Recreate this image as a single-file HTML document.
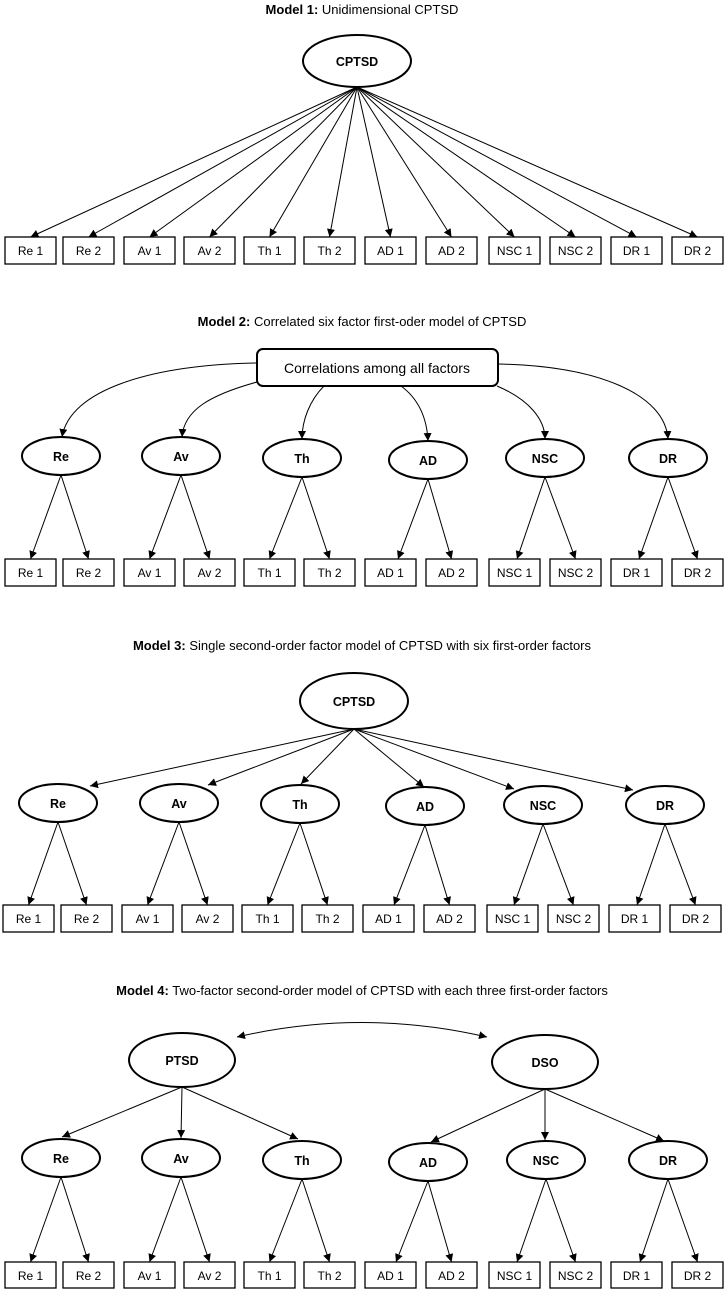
<!DOCTYPE html>
<html><head><meta charset="utf-8"><style>
html,body{margin:0;padding:0;background:#fff}
svg{display:block}
text{font-family:"Liberation Sans",sans-serif;fill:#000}
.t{font-size:13px}
.b{font-size:12px}
.f{font-size:12.5px;font-weight:bold}
rect.box{fill:#fff;stroke:#000;stroke-width:1.3}
ellipse{fill:#fff;stroke:#000;stroke-width:2}
line,path.c{stroke:#000;stroke-width:1;fill:none}
</style></head><body>
<svg width="725" height="1290" viewBox="0 0 725 1290" xmlns="http://www.w3.org/2000/svg">
<defs>
<marker id="a" viewBox="0 0 10 10" refX="10" refY="5" markerWidth="8" markerHeight="8" markerUnits="userSpaceOnUse" orient="auto-start-reverse"><path d="M0,0 L10,5 L0,10 z" fill="#000"/></marker>
</defs>

<!-- Model 1 -->
<text class="t" x="362" y="14" text-anchor="middle"><tspan font-weight="bold">Model 1:</tspan> Unidimensional CPTSD</text>
<g marker-end="url(#a)">
<line x1="357" y1="87" x2="30.5" y2="237"/><line x1="357" y1="87" x2="88.5" y2="237"/>
<line x1="357" y1="87" x2="149.5" y2="237"/><line x1="357" y1="87" x2="209.5" y2="237"/>
<line x1="357" y1="87" x2="269.5" y2="237"/><line x1="357" y1="87" x2="329.5" y2="237"/>
<line x1="357" y1="87" x2="390.5" y2="237"/><line x1="357" y1="87" x2="451.5" y2="237"/>
<line x1="357" y1="87" x2="514.5" y2="237"/><line x1="357" y1="87" x2="575.5" y2="237"/>
<line x1="357" y1="87" x2="636.5" y2="237"/><line x1="357" y1="87" x2="697.5" y2="237"/>
</g>
<ellipse cx="357" cy="61" rx="54" ry="26"/>
<text class="f" x="357" y="66" text-anchor="middle" font-size="14">CPTSD</text>
<g transform="translate(0,237)">
<rect class="box" x="5" y="0" width="51" height="27"/><text class="b" x="30.5" y="18" text-anchor="middle">Re 1</text>
<rect class="box" x="63" y="0" width="51" height="27"/><text class="b" x="88.5" y="18" text-anchor="middle">Re 2</text>
<rect class="box" x="124" y="0" width="51" height="27"/><text class="b" x="149.5" y="18" text-anchor="middle">Av 1</text>
<rect class="box" x="184" y="0" width="51" height="27"/><text class="b" x="209.5" y="18" text-anchor="middle">Av 2</text>
<rect class="box" x="244" y="0" width="51" height="27"/><text class="b" x="269.5" y="18" text-anchor="middle">Th 1</text>
<rect class="box" x="304" y="0" width="51" height="27"/><text class="b" x="329.5" y="18" text-anchor="middle">Th 2</text>
<rect class="box" x="365" y="0" width="51" height="27"/><text class="b" x="390.5" y="18" text-anchor="middle">AD 1</text>
<rect class="box" x="426" y="0" width="51" height="27"/><text class="b" x="451.5" y="18" text-anchor="middle">AD 2</text>
<rect class="box" x="489" y="0" width="51" height="27"/><text class="b" x="514.5" y="18" text-anchor="middle">NSC 1</text>
<rect class="box" x="550" y="0" width="51" height="27"/><text class="b" x="575.5" y="18" text-anchor="middle">NSC 2</text>
<rect class="box" x="611" y="0" width="51" height="27"/><text class="b" x="636.5" y="18" text-anchor="middle">DR 1</text>
<rect class="box" x="672" y="0" width="51" height="27"/><text class="b" x="697.5" y="18" text-anchor="middle">DR 2</text>
</g>

<!-- Model 2 -->
<text class="t" x="362" y="326" text-anchor="middle"><tspan font-weight="bold">Model 2:</tspan> Correlated six factor first-oder model of CPTSD</text>
<g marker-end="url(#a)">
<path class="c" d="M257,363 C150,365 70,390 62,437"/>
<path class="c" d="M257,382 C210,395 184,410 182,437"/>
<path class="c" d="M324,386 C310,400 302,420 302,439"/>
<path class="c" d="M401,386 C420,400 427,420 428,441"/>
<path class="c" d="M497,386 C530,400 545,420 545,439"/>
<path class="c" d="M498,364 C600,366 665,395 668,439"/>
<line x1="61" y1="475" x2="30.5" y2="559"/><line x1="61" y1="475" x2="88.5" y2="559"/>
<line x1="181" y1="475" x2="149.5" y2="559"/><line x1="181" y1="475" x2="209.5" y2="559"/>
<line x1="302" y1="477" x2="269.5" y2="559"/><line x1="302" y1="477" x2="329.5" y2="559"/>
<line x1="428" y1="479" x2="398" y2="559"/><line x1="428" y1="479" x2="451.5" y2="559"/>
<line x1="545" y1="477" x2="517" y2="559"/><line x1="545" y1="477" x2="575.5" y2="559"/>
<line x1="668" y1="477" x2="639" y2="559"/><line x1="668" y1="477" x2="697.5" y2="559"/>
</g>
<rect x="257" y="349" width="241" height="37" rx="6" fill="#fff" stroke="#000" stroke-width="2"/>
<text x="377" y="373" text-anchor="middle" font-size="14">Correlations among all factors</text>
<ellipse cx="61" cy="456" rx="39" ry="19"/><text class="f" x="61" y="461" text-anchor="middle">Re</text>
<ellipse cx="181" cy="456" rx="39" ry="19"/><text class="f" x="181" y="461" text-anchor="middle">Av</text>
<ellipse cx="302" cy="458" rx="39" ry="19"/><text class="f" x="302" y="463" text-anchor="middle">Th</text>
<ellipse cx="428" cy="460" rx="39" ry="19"/><text class="f" x="428" y="465" text-anchor="middle">AD</text>
<ellipse cx="545" cy="458" rx="39" ry="19"/><text class="f" x="545" y="463" text-anchor="middle">NSC</text>
<ellipse cx="668" cy="458" rx="39" ry="19"/><text class="f" x="668" y="463" text-anchor="middle">DR</text>
<g transform="translate(0,559)">
<rect class="box" x="5" y="0" width="51" height="27"/><text class="b" x="30.5" y="18" text-anchor="middle">Re 1</text>
<rect class="box" x="63" y="0" width="51" height="27"/><text class="b" x="88.5" y="18" text-anchor="middle">Re 2</text>
<rect class="box" x="124" y="0" width="51" height="27"/><text class="b" x="149.5" y="18" text-anchor="middle">Av 1</text>
<rect class="box" x="184" y="0" width="51" height="27"/><text class="b" x="209.5" y="18" text-anchor="middle">Av 2</text>
<rect class="box" x="244" y="0" width="51" height="27"/><text class="b" x="269.5" y="18" text-anchor="middle">Th 1</text>
<rect class="box" x="304" y="0" width="51" height="27"/><text class="b" x="329.5" y="18" text-anchor="middle">Th 2</text>
<rect class="box" x="365" y="0" width="51" height="27"/><text class="b" x="390.5" y="18" text-anchor="middle">AD 1</text>
<rect class="box" x="426" y="0" width="51" height="27"/><text class="b" x="451.5" y="18" text-anchor="middle">AD 2</text>
<rect class="box" x="489" y="0" width="51" height="27"/><text class="b" x="514.5" y="18" text-anchor="middle">NSC 1</text>
<rect class="box" x="550" y="0" width="51" height="27"/><text class="b" x="575.5" y="18" text-anchor="middle">NSC 2</text>
<rect class="box" x="611" y="0" width="51" height="27"/><text class="b" x="636.5" y="18" text-anchor="middle">DR 1</text>
<rect class="box" x="672" y="0" width="51" height="27"/><text class="b" x="697.5" y="18" text-anchor="middle">DR 2</text>
</g>

<!-- Model 3 -->
<text class="t" x="362" y="650" text-anchor="middle"><tspan font-weight="bold">Model 3:</tspan> Single second-order factor model of CPTSD with six first-order factors</text>
<g marker-end="url(#a)">
<line x1="354" y1="729" x2="90" y2="786"/><line x1="354" y1="729" x2="208" y2="785"/>
<line x1="354" y1="729" x2="301" y2="784"/><line x1="354" y1="729" x2="424" y2="787"/>
<line x1="354" y1="729" x2="514" y2="789"/><line x1="354" y1="729" x2="633" y2="790"/>
<line x1="58" y1="822" x2="28.5" y2="905"/><line x1="58" y1="822" x2="86.5" y2="905"/>
<line x1="179" y1="822" x2="147.5" y2="905"/><line x1="179" y1="822" x2="207.5" y2="905"/>
<line x1="300" y1="823" x2="267.5" y2="905"/><line x1="300" y1="823" x2="327.5" y2="905"/>
<line x1="425" y1="825" x2="394" y2="905"/><line x1="425" y1="825" x2="449.5" y2="905"/>
<line x1="543" y1="824" x2="514" y2="905"/><line x1="543" y1="824" x2="573.5" y2="905"/>
<line x1="665" y1="824" x2="637" y2="905"/><line x1="665" y1="824" x2="695.5" y2="905"/>
</g>
<ellipse cx="354" cy="701" rx="54" ry="28"/>
<text class="f" x="354" y="706" text-anchor="middle" font-size="14">CPTSD</text>
<ellipse cx="58" cy="803" rx="39" ry="19"/><text class="f" x="58" y="808" text-anchor="middle">Re</text>
<ellipse cx="179" cy="803" rx="39" ry="19"/><text class="f" x="179" y="808" text-anchor="middle">Av</text>
<ellipse cx="300" cy="804" rx="39" ry="19"/><text class="f" x="300" y="809" text-anchor="middle">Th</text>
<ellipse cx="425" cy="806" rx="39" ry="19"/><text class="f" x="425" y="811" text-anchor="middle">AD</text>
<ellipse cx="543" cy="805" rx="39" ry="19"/><text class="f" x="543" y="810" text-anchor="middle">NSC</text>
<ellipse cx="665" cy="805" rx="39" ry="19"/><text class="f" x="665" y="810" text-anchor="middle">DR</text>
<g transform="translate(-2,905)">
<rect class="box" x="5" y="0" width="51" height="27"/><text class="b" x="30.5" y="18" text-anchor="middle">Re 1</text>
<rect class="box" x="63" y="0" width="51" height="27"/><text class="b" x="88.5" y="18" text-anchor="middle">Re 2</text>
<rect class="box" x="124" y="0" width="51" height="27"/><text class="b" x="149.5" y="18" text-anchor="middle">Av 1</text>
<rect class="box" x="184" y="0" width="51" height="27"/><text class="b" x="209.5" y="18" text-anchor="middle">Av 2</text>
<rect class="box" x="244" y="0" width="51" height="27"/><text class="b" x="269.5" y="18" text-anchor="middle">Th 1</text>
<rect class="box" x="304" y="0" width="51" height="27"/><text class="b" x="329.5" y="18" text-anchor="middle">Th 2</text>
<rect class="box" x="365" y="0" width="51" height="27"/><text class="b" x="390.5" y="18" text-anchor="middle">AD 1</text>
<rect class="box" x="426" y="0" width="51" height="27"/><text class="b" x="451.5" y="18" text-anchor="middle">AD 2</text>
<rect class="box" x="489" y="0" width="51" height="27"/><text class="b" x="514.5" y="18" text-anchor="middle">NSC 1</text>
<rect class="box" x="550" y="0" width="51" height="27"/><text class="b" x="575.5" y="18" text-anchor="middle">NSC 2</text>
<rect class="box" x="611" y="0" width="51" height="27"/><text class="b" x="636.5" y="18" text-anchor="middle">DR 1</text>
<rect class="box" x="672" y="0" width="51" height="27"/><text class="b" x="697.5" y="18" text-anchor="middle">DR 2</text>
</g>

<!-- Model 4 -->
<text class="t" x="362" y="995" text-anchor="middle"><tspan font-weight="bold">Model 4:</tspan> Two-factor second-order model of CPTSD with each three first-order factors</text>
<path class="c" d="M237,1037 Q362,1008 487,1037" marker-start="url(#a)" marker-end="url(#a)"/>
<g marker-end="url(#a)">
<line x1="182" y1="1087" x2="62" y2="1137"/><line x1="182" y1="1087" x2="181" y2="1138"/>
<line x1="182" y1="1087" x2="298" y2="1139"/>
<line x1="545" y1="1089" x2="431" y2="1142"/><line x1="545" y1="1089" x2="545" y2="1140"/>
<line x1="545" y1="1089" x2="664" y2="1141"/>
<line x1="61" y1="1177" x2="30.5" y2="1262"/><line x1="61" y1="1177" x2="88.5" y2="1262"/>
<line x1="181" y1="1177" x2="149.5" y2="1262"/><line x1="181" y1="1177" x2="209.5" y2="1262"/>
<line x1="302" y1="1179" x2="269.5" y2="1262"/><line x1="302" y1="1179" x2="329.5" y2="1262"/>
<line x1="428" y1="1181" x2="396" y2="1262"/><line x1="428" y1="1181" x2="451.5" y2="1262"/>
<line x1="546" y1="1179" x2="517" y2="1262"/><line x1="546" y1="1179" x2="575.5" y2="1262"/>
<line x1="668" y1="1179" x2="640" y2="1262"/><line x1="668" y1="1179" x2="697.5" y2="1262"/>
</g>
<ellipse cx="182" cy="1060" rx="53" ry="27"/><text class="f" x="182" y="1065" text-anchor="middle" font-size="14">PTSD</text>
<ellipse cx="545" cy="1062" rx="53" ry="27"/><text class="f" x="545" y="1067" text-anchor="middle" font-size="14">DSO</text>
<ellipse cx="61" cy="1158" rx="39" ry="19"/><text class="f" x="61" y="1163" text-anchor="middle">Re</text>
<ellipse cx="181" cy="1158" rx="39" ry="19"/><text class="f" x="181" y="1163" text-anchor="middle">Av</text>
<ellipse cx="302" cy="1160" rx="39" ry="19"/><text class="f" x="302" y="1165" text-anchor="middle">Th</text>
<ellipse cx="428" cy="1162" rx="39" ry="19"/><text class="f" x="428" y="1167" text-anchor="middle">AD</text>
<ellipse cx="546" cy="1160" rx="39" ry="19"/><text class="f" x="546" y="1165" text-anchor="middle">NSC</text>
<ellipse cx="668" cy="1160" rx="39" ry="19"/><text class="f" x="668" y="1165" text-anchor="middle">DR</text>
<g transform="translate(0,1262)">
<rect class="box" x="5" y="0" width="51" height="26"/><text class="b" x="30.5" y="18" text-anchor="middle">Re 1</text>
<rect class="box" x="63" y="0" width="51" height="26"/><text class="b" x="88.5" y="18" text-anchor="middle">Re 2</text>
<rect class="box" x="124" y="0" width="51" height="26"/><text class="b" x="149.5" y="18" text-anchor="middle">Av 1</text>
<rect class="box" x="184" y="0" width="51" height="26"/><text class="b" x="209.5" y="18" text-anchor="middle">Av 2</text>
<rect class="box" x="244" y="0" width="51" height="26"/><text class="b" x="269.5" y="18" text-anchor="middle">Th 1</text>
<rect class="box" x="304" y="0" width="51" height="26"/><text class="b" x="329.5" y="18" text-anchor="middle">Th 2</text>
<rect class="box" x="365" y="0" width="51" height="26"/><text class="b" x="390.5" y="18" text-anchor="middle">AD 1</text>
<rect class="box" x="426" y="0" width="51" height="26"/><text class="b" x="451.5" y="18" text-anchor="middle">AD 2</text>
<rect class="box" x="489" y="0" width="51" height="26"/><text class="b" x="514.5" y="18" text-anchor="middle">NSC 1</text>
<rect class="box" x="550" y="0" width="51" height="26"/><text class="b" x="575.5" y="18" text-anchor="middle">NSC 2</text>
<rect class="box" x="611" y="0" width="51" height="26"/><text class="b" x="636.5" y="18" text-anchor="middle">DR 1</text>
<rect class="box" x="672" y="0" width="51" height="26"/><text class="b" x="697.5" y="18" text-anchor="middle">DR 2</text>
</g>
</svg>
</body></html>
